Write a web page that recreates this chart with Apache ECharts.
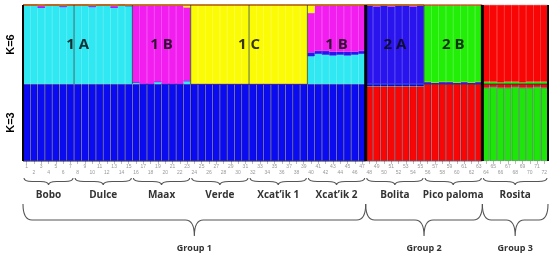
<!DOCTYPE html>
<html>
<head>
<meta charset="utf-8">
<script src="https://cdn.jsdelivr.net/npm/echarts@6/dist/echarts.min.js"></script>
<style>
  html, body { margin: 0; background: #fff; }
  #main { width: 550px; height: 259px; }
</style>
</head>
<body>
<div id="main"></div>
<script>
// individuals (tick labels)
var individuals = ['1','2','3','4','5','6','7','8','9','10','11','12','13','14','15','16','17','18',
  '19','20','21','22','23','24','25','26','27','28','29','30','31','32','33','34','35','36',
  '37','38','39','40','41','42','43','44','45','46','47','48','49','50','51','52','53','54',
  '55','56','57','58','59','60','61','62','63','64','65','66','67','68','69','70','71','72'];

var populations = ['Bobo', 'Dulce', 'Maax', 'Verde', 'Xcat\u2019ik 1', 'Xcat\u2019ik 2', 'Bolita', 'Pico paloma', 'Rosita'];
var popSizes = [7, 8, 8, 8, 8, 8, 8, 8, 9];
var groups = ['Group 1', 'Group 2', 'Group 3'];
var groupPopCounts = [6, 2, 1];

// cluster labels written in the K=6 panel: text + first/last population covered
var k6Labels = ['1 A', '1 B', '1 C', '1 B', '2 A', '2 B'];
var k6LabelPops = [[0, 1], [2, 2], [3, 4], [5, 5], [6, 6], [7, 7]];

// K=6 membership (stack order bottom -> top)
var k6Cyan = [1,1,0.97,1,1,0.98,1,  1,1,0.98,1,1,0.97,1,0.99,
  0.02,0,0,0.03,0,0,0,0.04,  0,0,0,0,0,0,0,0,  0,0,0,0,0,0,0,0,
  0.35,0.38,0.37,0.36,0.37,0.36,0.37,0.38,  0,0,0,0,0,0,0,0,  0,0,0,0,0,0,0,0,  0,0,0,0,0,0,0,0,0];
var k6Blue = [0,0,0,0,0,0,0,  0,0,0,0,0,0,0,0,
  0,0,0,0,0,0,0,0,  0,0,0,0,0,0,0,0,  0,0,0,0,0,0,0,0,
  0.05,0.04,0.05,0.05,0.04,0.05,0.04,0.04,  1,0.98,1,0.98,1,1,0.98,1,
  0.03,0.02,0.03,0.03,0.02,0.03,0.02,0.03,  0,0,0,0,0,0,0,0,0];
var k6Magenta = [0,0,0.03,0,0,0.02,0,  0,0,0.02,0,0,0.03,0,0.01,
  0.98,1,1,0.97,1,1,1,0.93,  0,0,0,0,0,0,0,0,  0,0,0,0,0,0,0,0,
  0.5,0.58,0.58,0.59,0.59,0.59,0.59,0.58,  0,0.02,0,0.02,0,0,0.02,0,  0,0,0,0,0,0,0,0,  0,0,0,0,0,0,0,0,0];
var k6Yellow = [0,0,0,0,0,0,0,  0,0,0,0,0,0,0,0,
  0,0,0,0,0,0,0,0.03,  1,1,1,1,1,1,1,1,  1,1,1,1,1,1,1,1,
  0.1,0,0,0,0,0,0,0,  0,0,0,0,0,0,0,0,  0,0,0,0,0,0,0,0,  0,0,0,0,0,0,0,0,0];
var k6Green = [0,0,0,0,0,0,0,  0,0,0,0,0,0,0,0,
  0,0,0,0,0,0,0,0,  0,0,0,0,0,0,0,0,  0,0,0,0,0,0,0,0,
  0,0,0,0,0,0,0,0,  0,0,0,0,0,0,0,0,  0.97,0.98,0.97,0.97,0.98,0.97,0.98,0.97,
  0.03,0.03,0.02,0.03,0.03,0.02,0.03,0.03,0.03];
var k6Red = [0,0,0,0,0,0,0,  0,0,0,0,0,0,0,0,
  0,0,0,0,0,0,0,0,  0,0,0,0,0,0,0,0,  0,0,0,0,0,0,0,0,
  0,0,0,0,0,0,0,0,  0,0,0,0,0,0,0,0,  0,0,0,0,0,0,0,0,
  0.97,0.97,0.98,0.97,0.97,0.98,0.97,0.97,0.97];

// K=3 membership (stack order bottom -> top)
var k3Green = [0,0,0,0,0,0,0,  0,0,0,0,0,0,0,0,  0,0,0,0,0,0,0,0,  0,0,0,0,0,0,0,0,
  0,0,0,0,0,0,0,0,  0,0,0,0,0,0,0,0,  0,0,0,0,0,0,0,0,  0,0,0,0,0,0,0,0,
  0.95,0.96,0.95,0.95,0.96,0.95,0.95,0.96,0.95];
var k3Red = [0,0,0,0,0,0,0,  0,0,0,0,0,0,0,0,  0,0,0,0,0,0,0,0,  0,0,0,0,0,0,0,0,
  0,0,0,0,0,0,0,0,  0,0,0,0,0,0,0,0,  0.97,0.97,0.97,0.97,0.97,0.97,0.97,0.97,
  1,1,1,1,1,1,1,1,  0.05,0.04,0.05,0.05,0.04,0.05,0.05,0.04,0.05];
var k3Blue = [1,1,1,1,1,1,1,  1,1,1,1,1,1,1,1,  1,1,1,1,1,1,1,1,  1,1,1,1,1,1,1,1,
  1,1,1,1,1,1,1,1,  1,1,1,1,1,1,1,1,  0.03,0.03,0.03,0.03,0.03,0.03,0.03,0.03,
  0,0,0,0,0,0,0,0,  0,0,0,0,0,0,0,0,0];

var N = individuals.length;

// population and group index ranges
var popRanges = [];
var s = 0;
for (var i = 0; i < popSizes.length; i++) {
  popRanges.push([s, s + popSizes[i] - 1, i]);
  s += popSizes[i];
}
var groupRanges = [];
var p = 0;
for (var g = 0; g < groups.length; g++) {
  groupRanges.push([popRanges[p][0], popRanges[p + groupPopCounts[g] - 1][1], g]);
  p += groupPopCounts[g];
}
var labelRanges = k6LabelPops.map(function (lp, i) {
  return [popRanges[lp[0]][0], popRanges[lp[1]][1], i];
});

// boundary lines: [index of boundary, kind] kind 0 thin, 1 thick, 2 edge
var topBounds = [], botBounds = [];
popRanges.forEach(function (r, i) {
  if (i === 0) return;
  var isGroup = groupRanges.some(function (gr) { return gr[0] === r[0]; });
  topBounds.push([r[0], isGroup ? 1 : 0]);
  if (isGroup) botBounds.push([r[0], 1]);
});
topBounds.push([0, 2], [N, 2]);
botBounds.push([0, 2], [N, 2]);

function edgeX(api, b) {
  var bw = api.size([1, 0])[0];
  if (b >= N) return api.coord([N - 1, 0])[0] + bw / 2;
  return api.coord([b, 0])[0] - bw / 2;
}

function renderBound(params, api) {
  var b = api.value(0), kind = api.value(1);
  var x = edgeX(api, b);
  var yTop = api.coord([0, 1])[1], yBot = api.coord([0, 0])[1];
  var w = kind === 0 ? 1 : (kind === 1 ? 3 : 2);
  var col = kind === 0 ? 'rgba(30,60,60,0.75)' : '#050505';
  return {
    type: 'line',
    shape: { x1: x, y1: yTop, x2: x, y2: yBot },
    style: { stroke: col, lineWidth: w }
  };
}

function bracePath(x0, x1, y0, h) {
  var mid = (x0 + x1) / 2, ym = y0 + h / 2, yt = y0 + h;
  var r = Math.min(9, (x1 - x0) / 6);
  return 'M' + x0 + ' ' + y0 +
    ' Q' + x0 + ' ' + ym + ' ' + (x0 + r) + ' ' + ym +
    ' L' + (mid - r) + ' ' + ym +
    ' Q' + mid + ' ' + ym + ' ' + mid + ' ' + yt +
    ' Q' + mid + ' ' + ym + ' ' + (mid + r) + ' ' + ym +
    ' L' + (x1 - r) + ' ' + ym +
    ' Q' + x1 + ' ' + ym + ' ' + x1 + ' ' + y0;
}

function makeBraceRender(names, off, h, textOff, font, inset) {
  return function (params, api) {
    var a = api.value(0), b = api.value(1), idx = api.value(2);
    var bw = api.size([1, 0])[0];
    var x0 = api.coord([a, 0])[0] - bw / 2 + inset;
    var x1 = api.coord([b, 0])[0] + bw / 2 - inset;
    var yb = api.coord([a, 0])[1];
    return {
      type: 'group',
      children: [
        { type: 'path', shape: { pathData: bracePath(x0, x1, yb + off, h) },
          style: { stroke: '#555', fill: 'none', lineWidth: 1.1 } },
        { type: 'text', style: { text: names[idx], x: (x0 + x1) / 2, y: yb + textOff,
          align: 'center', verticalAlign: 'middle', font: font, fill: '#333' } }
      ]
    };
  };
}

function renderK6Label(params, api) {
  var a = api.value(0), b = api.value(1), idx = api.value(2);
  var bw = api.size([1, 0])[0];
  var x0 = api.coord([a, 0])[0] - bw / 2;
  var x1 = api.coord([b, 0])[0] + bw / 2;
  var y = api.coord([a, 0.5])[1];
  return {
    type: 'text',
    style: { text: k6Labels[idx], x: (x0 + x1) / 2, y: y, align: 'center', verticalAlign: 'middle',
      font: 'bold 15px "Open Sans"', fill: 'rgba(10,10,10,0.82)' }
  };
}

var k6Series = [
  ['cyan', k6Cyan, '#2fe8f2'],
  ['blue', k6Blue, '#2a14ee'],
  ['magenta', k6Magenta, '#f21ef0'],
  ['yellow', k6Yellow, '#fbfb05'],
  ['green', k6Green, '#22ee08'],
  ['red', k6Red, '#f80606']
];
var k3Series = [
  ['green', k3Green, '#1fe60a'],
  ['red', k3Red, '#f80606'],
  ['blue', k3Blue, '#0b0bf2']
];

var series = [];
k6Series.forEach(function (d) {
  series.push({ name: 'K6 ' + d[0], type: 'bar', stack: 'k6', xAxisIndex: 0, yAxisIndex: 0,
    data: d[1], barCategoryGap: '0%', silent: true,
    itemStyle: { color: d[2], borderColor: d[2], borderWidth: 0.6 } });
});
k3Series.forEach(function (d) {
  series.push({ name: 'K3 ' + d[0], type: 'bar', stack: 'k3', xAxisIndex: 1, yAxisIndex: 1,
    data: d[1], barCategoryGap: '0%', silent: true,
    itemStyle: { color: d[2], borderColor: 'rgba(0,0,40,0.45)', borderWidth: 0.6 } });
});
series.push(
  { type: 'custom', xAxisIndex: 0, yAxisIndex: 0, data: topBounds, renderItem: renderBound, silent: true, z: 5 },
  { type: 'custom', xAxisIndex: 1, yAxisIndex: 1, data: botBounds, renderItem: renderBound, silent: true, z: 5 },
  { type: 'custom', xAxisIndex: 0, yAxisIndex: 0, data: labelRanges, renderItem: renderK6Label, silent: true, z: 6 },
  { type: 'custom', xAxisIndex: 1, yAxisIndex: 1, data: popRanges, silent: true, z: 6,
    renderItem: makeBraceRender(populations, 17, 7, 34, 'bold 10px "Open Sans"', 1) },
  { type: 'custom', xAxisIndex: 1, yAxisIndex: 1, data: groupRanges, silent: true, z: 6,
    renderItem: makeBraceRender(groups, 43, 32, 87, 'bold 9px "Open Sans"', 0) }
);

var yName = { fontWeight: 'bold', fontSize: 11, color: '#000', fontFamily: 'Liberation Sans' };

var chart = echarts.init(document.getElementById('main'));
chart.setOption({
  animation: false,
  grid: [
    { left: 23, right: 2, top: 5, height: 79, containLabel: false, outerBoundsMode: 'none' },
    { left: 23, right: 2, top: 84, height: 77, containLabel: false, outerBoundsMode: 'none' }
  ],
  xAxis: [
    { type: 'category', gridIndex: 0, data: individuals, show: false },
    { type: 'category', gridIndex: 1, data: individuals,
      axisLine: { show: false },
      axisTick: { show: true, alignWithLabel: true, length: 3, lineStyle: { color: '#aaa', width: 0.8 } },
      axisLabel: { interval: 0, fontSize: 5, color: '#999', margin: 3, lineHeight: 6,
        formatter: function (v, i) { return i % 2 === 0 ? v : '\n' + v; } } }
  ],
  yAxis: [
    { type: 'value', gridIndex: 0, min: 0, max: 1, axisLabel: { show: false }, axisTick: { show: false },
      splitLine: { show: false }, axisLine: { show: false },
      name: 'K=6', nameLocation: 'middle', nameRotate: 90, nameGap: 7, nameTextStyle: yName },
    { type: 'value', gridIndex: 1, min: 0, max: 1, axisLabel: { show: false }, axisTick: { show: false },
      splitLine: { show: false }, axisLine: { show: false },
      name: 'K=3', nameLocation: 'middle', nameRotate: 90, nameGap: 7, nameTextStyle: yName }
  ],
  series: series
});
</script>
</body>
</html>
